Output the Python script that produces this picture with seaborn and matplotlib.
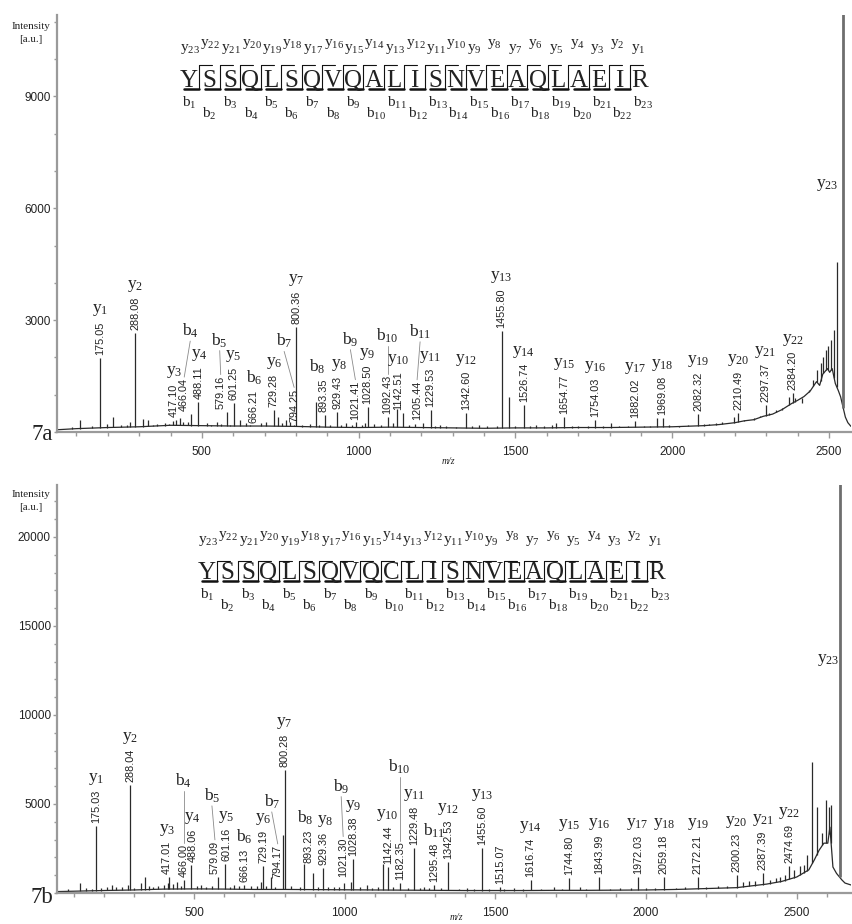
import numpy as np
import pandas as pd
import matplotlib
matplotlib.use("Agg")
import matplotlib.pyplot as plt
from matplotlib.lines import Line2D
from matplotlib.ticker import MultipleLocator, FixedLocator
import seaborn as sns

W, H = 852, 924
INK = "#222222"
SERIF = "Liberation Serif"
SANS = "Liberation Sans"

# ---------------- peptide sequences ----------------
seq_a = "YSSQLSQVQALISNVEAQLAEIR"
seq_b = "YSSQLSQVQCLISNVEAQLAEIR"

# ---------------- panel 7a: annotated fragment peaks ----------------
a_mz = [175.05, 288.08, 417.10, 466.04, 488.11, 579.16, 601.25, 666.21, 729.28,
        794.25, 800.36, 893.35, 929.43, 1021.41, 1028.50, 1092.43, 1142.51,
        1205.44, 1229.53, 1342.60, 1455.80, 1526.74, 1654.77, 1754.03, 1882.02,
        1969.08, 2082.32, 2210.49, 2297.37, 2384.20]
a_ion = ["y1", "y2", "y3", "b4", "y4", "b5", "y5", "b6", "y6",
         "b7", "y7", "b8", "y8", "b9", "y9", "b10", "y10",
         "b11", "y11", "y12", "y13", "y14", "y15", "y16", "y17",
         "y18", "y19", "y20", "y21", "y22"]
a_int = [1990, 2650, 330, 480, 800, 540, 780, 150, 590,
         200, 2815, 450, 540, 240, 670, 400, 520,
         240, 590, 510, 2710, 720, 400, 320, 290,
         370, 480, 510, 720, 1040]

# unlabelled peaks, panel 7a
a_minor_mz = [85, 111, 150, 198, 215, 241, 260, 271, 313, 329, 345, 356, 382, 395, 409,
              430, 440, 455, 515, 530, 547, 560, 590, 621, 642, 655, 690, 706, 743,
              755, 769, 780, 820, 845, 863, 875, 910, 945, 961, 980, 993, 1010, 1050,
              1070, 1110, 1122, 1160, 1180, 1245, 1258, 1280, 1310, 1360, 1385, 1410,
              1440, 1478, 1500, 1545, 1567, 1590, 1615, 1630, 1680, 1700, 1730, 1780,
              1806, 1830, 1860, 1910, 1930, 1952, 1990, 2020, 2050, 2100, 2118, 2140,
              2160, 2180, 2197, 2230, 2245, 2260, 2280, 2310, 2331, 2350, 2373, 2390,
              2414, 2425, 2436, 2450, 2462, 2474, 2482, 2490, 2498, 2506, 2516, 2525]
a_minor_int = [130, 320, 150, 210, 390, 200, 180, 270, 360, 320, 200, 210, 240, 220, 300,
               380, 260, 260, 240, 200, 270, 220, 200, 320, 240, 200, 230, 270, 410,
               250, 320, 260, 200, 220, 800, 180, 200, 190, 240, 180, 270, 200, 210,
               180, 230, 620, 200, 220, 160, 190, 150, 140, 160, 190, 150,
               160, 940, 170, 150, 190, 160, 180, 240, 150, 170, 160, 160,
               240, 150, 170, 160, 170, 380, 190, 170, 200, 210, 220, 230,
               260, 250, 410, 320, 320, 380, 420, 520, 590, 650, 940, 900,
               780, 1000, 1130, 1400, 1660, 1850, 2000, 2200, 2300, 2470, 2730, 4560]

# precursor (y23), panel 7a
a_prec_mz, a_prec_int = 2545, 12500

# baseline trace, panel 7a
a_base_mz = [38, 100, 200, 300, 400, 500, 600, 700, 800, 900, 1000, 1100, 1200, 1300,
             1400, 1500, 1600, 1700, 1800, 1900, 2000, 2100, 2150, 2200, 2230, 2260,
             2290, 2320, 2350, 2380, 2400, 2420, 2440, 2460, 2470, 2480, 2495, 2502,
             2510, 2520, 2530, 2537, 2552, 2560, 2570]
a_base_int = [60, 90, 120, 140, 180, 170, 160, 160, 150, 130, 120, 130, 120, 110,
              100, 110, 110, 120, 120, 130, 140, 170, 200, 250, 300, 330,
              420, 480, 600, 760, 850, 950, 1100, 1350, 1250, 1550, 1700, 1600,
              1700, 1300, 1100, 940, 400, 250, 150]

# ---------------- panel 7b: annotated fragment peaks ----------------
b_mz = [175.03, 288.04, 417.01, 466.00, 488.06, 579.09, 601.16, 666.13, 729.19,
        794.17, 800.28, 893.23, 929.36, 1021.30, 1028.38, 1142.44, 1182.35,
        1229.48, 1295.48, 1342.53, 1455.60, 1515.07, 1616.74, 1744.80, 1843.99,
        1972.03, 2059.18, 2172.21, 2300.23, 2387.39, 2474.69]
b_ion = ["y1", "y2", "y3", "b4", "y4", "b5", "y5", "b6", "y6",
         "b7", "y7", "b8", "y8", "b9", "y9", "y10", "b10",
         "y11", "b11", "y12", "y13", "", "y14", "y15", "y16",
         "y17", "y18", "y19", "y20", "y21", "y22"]
b_int = [3760, 6070, 900, 730, 1570, 900, 1630, 450, 1520,
         3250, 6910, 1120, 1400, 600, 1910, 1460, 540,
         2530, 450, 1740, 2530, 360, 730, 840, 900,
         900, 880, 900, 1010, 1120, 1520]

b_minor_mz = [82, 122, 142, 160, 190, 212, 227, 242, 260, 280, 300, 324, 338, 350, 363,
              380, 400, 413, 430, 444, 455, 510, 523, 540, 560, 620, 633, 650, 690,
              710, 722, 740, 755, 770, 820, 850, 866, 910, 945, 964, 980, 998, 1050,
              1075, 1090, 1109, 1128, 1160, 1210, 1250, 1262, 1280, 1320, 1380, 1406,
              1430, 1480, 1530, 1560, 1590, 1650, 1693, 1720, 1782, 1800, 1880, 1914,
              1950, 2000, 2030, 2100, 2130, 2200, 2240, 2270, 2320, 2340, 2360, 2410,
              2430, 2444, 2460, 2490, 2510, 2525, 2534, 2552, 2567, 2585, 2596, 2607,
              2614]
b_minor_int = [200, 540, 260, 250, 300, 360, 450, 360, 350, 450, 300, 540, 880, 400, 360,
               420, 450, 540, 500, 630, 400, 420, 450, 360, 380, 350, 450, 380, 400,
               380, 630, 420, 900, 360, 400, 350, 1630, 330, 350, 360, 330, 540, 320,
               450, 300, 360, 1630, 320, 280, 300, 360, 260, 260, 250, 300,
               240, 240, 230, 300, 240, 230, 360, 240, 360, 250, 250, 300,
               260, 270, 280, 300, 320, 350, 380, 420, 600, 700, 650, 750,
               820, 900, 1000, 1300, 1500, 1600, 2130, 7380, 4830, 3370, 5220, 4830,
               4940]

b_prec_mz, b_prec_int = 2642, 24000

b_base_mz = [45, 100, 200, 300, 400, 500, 600, 700, 800, 900, 1000, 1100, 1200, 1300,
             1400, 1500, 1600, 1700, 1800, 1900, 2000, 2100, 2200, 2300, 2350, 2400,
             2450, 2480, 2500, 2520, 2540, 2558, 2574, 2590, 2603, 2610, 2620, 2632,
             2650, 2660, 2680]
b_base_int = [80, 100, 140, 170, 220, 230, 220, 200, 200, 190, 180, 170, 160, 150,
              140, 140, 140, 150, 150, 160, 170, 200, 250, 300, 400, 500,
              650, 800, 900, 1100, 1300, 1850, 2400, 2800, 2800, 3700, 1460, 1100,
              730, 560, 450]

# per-label placement tweaks (pixel offsets / text base in intensity units)
a_layout = {
    "y3": dict(tdx=-2),
    "b4": dict(tdx=-7, gap=38, ldx=6),
    "y4": dict(tdx=1),
    "b5": dict(tdx=-6, gap=26, ldx=-1),
    "b7": dict(gap=38, ldx=-10),
    "b8": dict(tdx=-2, ldx=-6),
    "y8": dict(tdx=1, ldx=2),
    "b9": dict(tdx=-10, gap=32, ldx=-5),
    "b10": dict(gap=30),
    "y10": dict(tdx=-5),
    "b11": dict(tdx=-6, gap=40, ldx=3),
}
b_layout = {
    "y3": dict(tdx=-2),
    "b4": dict(gap=54),
    "y4": dict(tdx=2),
    "b5": dict(tdx=-3, gap=36, ldx=-3),
    "y5": dict(tdx=2),
    "b7": dict(tdx=-5, base=840, gap=34, ldx=-6),
    "b8": dict(tdx=-4, base=1690, ldx=-3),
    "y8": dict(ldx=2),
    "b9": dict(tdx=-8, base=900, gap=42, ldx=-2),
    "b10": dict(gap=66),
}

# ---------------- style ----------------
sns.set_theme(style="ticks")
plt.rcParams["font.family"] = [SANS, "DejaVu Sans"]
plt.rcParams["axes.facecolor"] = "white"

fig = plt.figure(figsize=(W / 100, H / 100), dpi=100)


def fx(x):
    return x / W


def fy(y):
    return 1 - y / H


def ion_tex(ion):
    return r"$\mathregular{%s_{%s}}$" % (ion[0], ion[1:])


def make_axes(top_px, bot_px, xlim, ylim, ymajor, yminor):
    ax = fig.add_axes([fx(57), fy(bot_px), (851 - 57) / W, (bot_px - top_px) / H])
    ax.set_xlim(*xlim)
    ax.set_ylim(*ylim)
    for s in ("top", "right"):
        ax.spines[s].set_visible(False)
    for s in ("left", "bottom"):
        ax.spines[s].set_color("#9a9a9a")
        ax.spines[s].set_linewidth(1.6)
    ax.xaxis.set_major_locator(FixedLocator([500, 1000, 1500, 2000, 2500]))
    ax.xaxis.set_minor_locator(MultipleLocator(100))
    ax.yaxis.set_major_locator(FixedLocator(ymajor))
    ax.yaxis.set_minor_locator(MultipleLocator(yminor))
    ax.tick_params(which="both", direction="out", color="#9a9a9a", width=1.0,
                   labelcolor=INK, labelsize=8.5)
    ax.tick_params(axis="x", which="major", length=4, pad=6)
    ax.tick_params(axis="x", which="minor", length=3)
    ax.tick_params(axis="y", which="major", length=3, pad=1.5)
    ax.tick_params(axis="y", which="minor", length=2.5)
    ax.set_xlabel("")
    ax.set_ylabel("")
    ax.grid(False)
    return ax


def draw_spectrum(ax, base_mz, base_int, minor_mz, minor_int, mz, ints, prec_mz, prec_int):
    df = pd.DataFrame({"mz": base_mz, "I": base_int})
    sns.lineplot(data=df, x="mz", y="I", ax=ax, estimator=None, color="#2a2a2a",
                 lw=0.9, legend=False)
    peaks_mz = np.array(list(minor_mz) + list(mz), dtype=float)
    peaks_int = np.array(list(minor_int) + list(ints), dtype=float)
    foot = np.interp(peaks_mz, base_mz, base_int)
    ax.vlines(peaks_mz, foot, peaks_int, color="#2a2a2a", lw=0.9)
    foot_p = np.interp(prec_mz, base_mz, base_int)
    ax.vlines([prec_mz], [foot_p], [prec_int], color="#6e6e6e", lw=2.0)
    ax.set_xlabel("")
    ax.set_ylabel("")


def annotate(ax, mz, ints, ions, layout):
    r = fig.canvas.get_renderer()
    to_disp = ax.transData.transform
    to_data = ax.transData.inverted().transform
    for m, inten, ion in zip(mz, ints, ions):
        opt = layout.get(ion, {})
        xp, yp = to_disp((m, inten))
        yb = to_disp((m, opt["base"]))[1] if "base" in opt else yp + 3
        tx = xp + opt.get("tdx", 0)
        t = ax.text(*to_data((tx, yb)), f"{m:.2f}", rotation=90, ha="center",
                    va="bottom", fontsize=7.8, color=INK, family=[SANS, "DejaVu Sans"])
        top = yb + t.get_window_extent(r).height
        if not ion:
            continue
        gap = opt.get("gap", 3)
        lx = tx + opt.get("ldx", 0)
        ax.text(*to_data((lx, top + gap)), ion_tex(ion), ha="center", va="bottom",
                fontsize=12.5, color=INK, family=SERIF)
        if gap > 10:
            p0 = to_data((lx, top + gap - 1))
            p1 = to_data((tx, top + 1))
            ax.plot([p0[0], p1[0]], [p0[1], p1[1]], color="#8a8a8a", lw=0.6)


def draw_header(seq, x0, dx, base, top_line, bot_line):
    n = len(seq)
    xs = [x0 + dx * i for i in range(n)]
    for i, ch in enumerate(seq):
        fig.text(fx(xs[i]), fy(base), ch, ha="center", va="baseline", fontsize=18,
                 family=SERIF, color=INK)
        # y-ion label above, b-ion label below
        y_off = 36 if i % 2 == 0 else 41
        fig.text(fx(xs[i] - 9), fy(base - y_off), ion_tex(f"y{n - i}"), ha="left",
                 va="baseline", fontsize=11, family=SERIF, color=INK)
        b_off = 20 if i % 2 == 0 else 31
        fig.text(fx(xs[i] - 7), fy(base + b_off), ion_tex(f"b{i + 1}"), ha="left",
                 va="baseline", fontsize=11, family=SERIF, color=INK)
    for i in range(n - 1):
        s = (xs[i] + xs[i + 1]) / 2
        fig.add_artist(Line2D([fx(s), fx(s)], [fy(top_line), fy(bot_line)],
                              transform=fig.transFigure, color="#111111", lw=0.8))
        fig.add_artist(Line2D([fx(s), fx(s + 13)], [fy(top_line), fy(top_line)],
                              transform=fig.transFigure, color="#111111", lw=0.8))
        fig.add_artist(Line2D([fx(s - 15), fx(s)], [fy(bot_line), fy(bot_line)],
                              transform=fig.transFigure, color="#111111", lw=1.8))


# ---------------- panel 7a ----------------
ax_a = make_axes(15, 432, (38, 2570), (0, 11180), [3000, 6000, 9000], 1000)
draw_spectrum(ax_a, a_base_mz, a_base_int, a_minor_mz, a_minor_int, a_mz, a_int,
              a_prec_mz, a_prec_int)
annotate(ax_a, a_mz, a_int, a_ion, a_layout)
ax_a.text(2494, 6620, ion_tex("y23"), ha="center", va="center", fontsize=12.5,
          family=SERIF, color=INK)

# ---------------- panel 7b ----------------
ax_b = make_axes(485, 893, (45, 2680), (0, 22920), [5000, 10000, 15000, 20000], 1000)
draw_spectrum(ax_b, b_base_mz, b_base_int, b_minor_mz, b_minor_int, b_mz, b_int,
              b_prec_mz, b_prec_int)
annotate(ax_b, b_mz, b_int, b_ion, b_layout)
ax_b.text(2603, 13090, ion_tex("y23"), ha="center", va="center", fontsize=12.5,
          family=SERIF, color=INK)

# ---------------- sequence headers ----------------
draw_header(seq_a, 189, 20.5, 87, 65, 89)
draw_header(seq_b, 207, 20.45, 579, 561, 581)

# ---------------- axis captions ----------------
for ytop in (22, 490):
    fig.text(fx(31), fy(ytop), "Intensity\n[a.u.]", ha="center", va="top",
             fontsize=8, family=SERIF, color=INK, linespacing=1.55)
fig.text(fx(53), fy(440), "7a", ha="right", va="baseline", fontsize=16.5,
         family=SERIF, color=INK)
fig.text(fx(53), fy(903), "7b", ha="right", va="baseline", fontsize=16.5,
         family=SERIF, color=INK)
fig.text(fx(448), fy(462), "m/z", ha="center", va="center", fontsize=7,
         family=SERIF, style="italic", color=INK)
fig.text(fx(456), fy(918), "m/z", ha="center", va="center", fontsize=7,
         family=SERIF, style="italic", color=INK)

fig.savefig("out.png", dpi=100, facecolor="white")
